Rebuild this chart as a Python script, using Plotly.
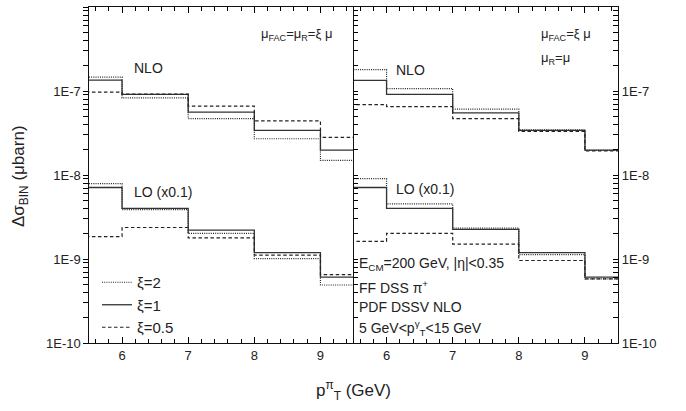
import plotly.graph_objects as go

# ---------------- data ----------------
bin_edges = [5, 6, 7, 8, 9, 10]

# Left panel: mu_FAC = mu_R = xi mu
left_nlo_xi2 = [1.46e-7, 8.3e-8, 4.7e-8, 2.7e-8, 1.49e-8]
left_nlo_xi1 = [1.35e-7, 9.1e-8, 5.6e-8, 3.4e-8, 1.98e-8]
left_nlo_xi05 = [0.97e-7, 9.2e-8, 6.6e-8, 4.4e-8, 2.8e-8]
left_lo_xi2 = [7.9e-9, 3.87e-9, 2.02e-9, 1.01e-9, 4.9e-10]
left_lo_xi1 = [7.1e-9, 4.0e-9, 2.21e-9, 1.19e-9, 6.1e-10]
left_lo_xi05 = [1.85e-9, 2.37e-9, 1.78e-9, 1.11e-9, 6.5e-10]

# Right panel: mu_FAC = xi mu, mu_R = mu
right_nlo_xi2 = [1.8e-7, 1.07e-7, 6.1e-8, 3.45e-8, 1.96e-8]
right_nlo_xi1 = [1.34e-7, 9.1e-8, 5.5e-8, 3.4e-8, 1.98e-8]
right_nlo_xi05 = [6.9e-8, 6.5e-8, 4.7e-8, 3.3e-8, 1.93e-8]
right_lo_xi2 = [9.06e-9, 4.53e-9, 2.33e-9, 1.13e-9, 5.8e-10]
right_lo_xi1 = [7.1e-9, 4.0e-9, 2.25e-9, 1.19e-9, 6.1e-10]
right_lo_xi05 = [1.62e-9, 2.02e-9, 1.5e-9, 9.6e-10, 5.8e-10]

x_ticks = [6, 7, 8, 9]
y_major_exp = [-10, -9, -8, -7, -6]
legend_names = ["\u03be=2", "\u03be=1", "\u03be=0.5"]

# ---------------- figure ----------------
W, H = 686, 411
ML, MR, MT, MB = 89, 68, 7, 68
PW, PH = W - ML - MR, H - MT - MB
FONT = "Arial, Liberation Sans, sans-serif"

def px(x):
    return (x - ML) / PW

def py(y):
    return (H - MB - y) / PH

styles = [
    dict(color="#222", width=1.2, dash="1px,1.2px"),
    dict(color="#333", width=1.3, dash="solid"),
    dict(color="#222", width=1.2, dash="3.5px,2.5px"),
]

def step(vals):
    return list(vals) + [vals[-1]]

fig = go.Figure()
panels = [
    ("x", "y", [left_nlo_xi2, left_nlo_xi1, left_nlo_xi05], [left_lo_xi2, left_lo_xi1, left_lo_xi05]),
    ("x2", "y2", [right_nlo_xi2, right_nlo_xi1, right_nlo_xi05], [right_lo_xi2, right_lo_xi1, right_lo_xi05]),
]
for pi, (xa, ya, nlo, lo) in enumerate(panels):
    for si in range(3):
        for gi, series in enumerate((nlo[si], lo[si])):
            fig.add_trace(go.Scatter(
                x=bin_edges, y=step(series), mode="lines", line_shape="hv",
                line=styles[si], xaxis=xa, yaxis=ya,
                name=legend_names[si], legendgroup=legend_names[si],
                showlegend=(pi == 0 and gi == 0),
            ))

# y ticks: decades labelled, 2..9 sub-decade ticks unlabelled
y_tickvals, y_ticktext = [], []
for d in y_major_exp:
    y_tickvals.append(10.0 ** d)
    y_ticktext.append("1E%d" % d)
    if d < -6:
        for k in range(2, 10):
            y_tickvals.append(k * 10.0 ** d)
            y_ticktext.append("")

TC = "#000"
xcommon = dict(range=[5.5, 9.5], tickvals=x_ticks, ticks="inside",
               ticklen=6, tickwidth=1.3, tickcolor=TC, showline=True, linecolor="#111",
               linewidth=1.3, mirror="ticks", showgrid=False, zeroline=False,
               tickfont=dict(family=FONT, size=13, color="#222"),
               minor=dict(dtick=0.2, ticks="inside", ticklen=3.5, tickcolor=TC, tickwidth=1.1))
ycommon = dict(type="log", range=[-10, -6], tickvals=y_tickvals, ticktext=y_ticktext,
               ticklen=4.5, tickwidth=1.2, tickcolor=TC,
               showline=True, linecolor="#111", linewidth=1.3, showgrid=False,
               zeroline=False, tickfont=dict(family=FONT, size=13, color="#222"))

fig.update_layout(
    width=W, height=H, margin=dict(l=ML, r=MR, t=MT, b=MB),
    paper_bgcolor="white", plot_bgcolor="white",
    xaxis=dict(domain=[0, 0.5], anchor="y", **xcommon),
    xaxis2=dict(domain=[0.5, 1], anchor="y2", **xcommon),
    yaxis=dict(anchor="x", side="left", ticks="outside", **ycommon),
    yaxis2=dict(anchor="x2", side="right", ticks="inside", mirror="ticks", **ycommon),
    showlegend=True,
    legend=dict(x=px(97), y=py(266), xanchor="left", yanchor="top",
                bgcolor="rgba(0,0,0,0)", font=dict(family=FONT, size=15, color="#222"),
                tracegroupgap=0),
)

def ann(text, x, y, size=13, xanchor="left", **kw):
    fig.add_annotation(text=text, x=px(x), y=py(y), xref="paper", yref="paper",
                       xanchor=xanchor, yanchor="middle", showarrow=False,
                       font=dict(family=FONT, size=size, color="#222"), **kw)

ann("\u03bc<sub>FAC</sub>=\u03bc<sub>R</sub>=\u03be \u03bc", 259, 34, 13)
ann("NLO", 132, 68, 14)
ann("LO (x0.1)", 132, 192, 14)
ann("\u03bc<sub>FAC</sub>=\u03be \u03bc", 539, 34, 13)
ann("\u03bc<sub>R</sub>=\u03bc", 539, 58, 13)
ann("NLO", 394, 70, 14)
ann("LO (x0.1)", 394, 189, 14)
ann("E<sub>CM</sub>=200 GeV, |\u03b7|&lt;0.35", 357, 264, 14)
ann("FF DSS \u03c0<sup>+</sup>", 357, 287, 14)
ann("PDF DSSV NLO", 357, 307, 14)
ann("5 GeV&lt;p<sup>\u03b3</sup><sub>T</sub>&lt;15 GeV", 357, 328, 14)

ann("p<sup>\u03c0</sup><sub>T</sub> (GeV)", 353, 390, 17, xanchor="center")
ann("\u0394\u03c3<sub>BIN</sub> (\u03bcbarn)", 20, 176, 17, xanchor="center", textangle=-90)

fig.write_html("out.html")
